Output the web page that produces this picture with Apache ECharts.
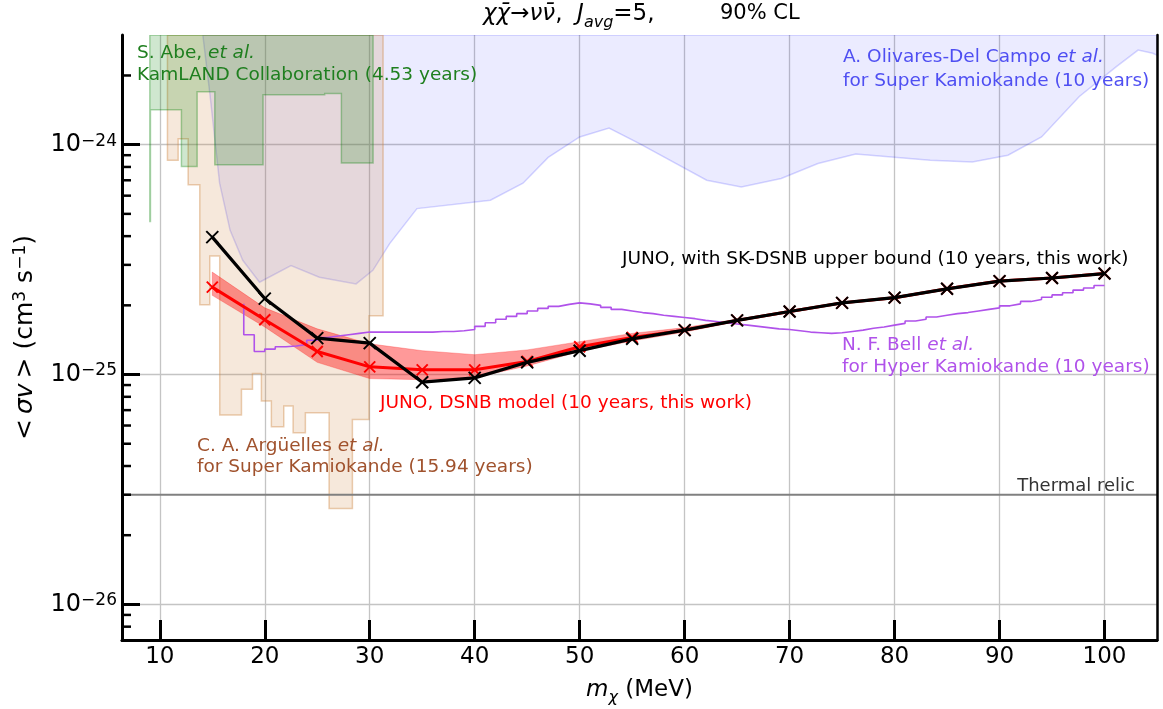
<!DOCTYPE html>
<html>
<head>
<meta charset="utf-8">
<script src="https://cdn.jsdelivr.net/npm/echarts@6.0.0/dist/echarts.min.js"></script>
<style>
html,body{margin:0;padding:0;background:#fff;}
#chart{width:1163px;height:709px;}
</style>
</head>
<body>
<div id="chart"></div>
<script>
// ---------------- axis ranges & ticks ----------------
const X_MIN = 6.4, X_MAX = 105;
const Y_MIN = 7e-27, Y_MAX = 3e-24;
const xTickValues = [10, 20, 30, 40, 50, 60, 70, 80, 90, 100];
const yMinorTicks = [8e-27, 9e-27, 2e-26, 3e-26, 4e-26, 5e-26, 6e-26, 7e-26, 8e-26, 9e-26,
  2e-25, 3e-25, 4e-25, 5e-25, 6e-25, 7e-25, 8e-25, 9e-25, 2e-24];

// ---------------- JUNO, with SK-DSNB upper bound (black) ----------------
const junoMass = [15, 20, 25, 30, 35, 40, 45, 50, 55, 60, 65, 70, 75, 80, 85, 90, 95, 100];
const junoSK = [3.96e-25, 2.14e-25, 1.44e-25, 1.37e-25, 9.26e-26, 9.67e-26, 1.13e-25, 1.27e-25, 1.43e-25,
  1.56e-25, 1.72e-25, 1.88e-25, 2.05e-25, 2.16e-25, 2.36e-25, 2.55e-25, 2.63e-25, 2.75e-25];

// ---------------- JUNO, DSNB model (red, with band) ----------------
const dsnbMass = [15, 20, 25, 30, 35, 40, 45, 50, 55, 60, 65, 70, 75, 80, 85, 90, 95, 100];
const dsnbCentral = [2.40e-25, 1.73e-25, 1.26e-25, 1.08e-25, 1.048e-25, 1.048e-25, 1.14e-25, 1.32e-25, 1.45e-25,
  1.56e-25, 1.72e-25, 1.88e-25, 2.05e-25, 2.16e-25, 2.36e-25, 2.55e-25, 2.63e-25, 2.75e-25];
const dsnbUpper = [2.79e-25, 1.95e-25, 1.58e-25, 1.36e-25, 1.27e-25, 1.22e-25, 1.28e-25, 1.39e-25, 1.51e-25,
  1.60e-25, 1.74e-25, 1.90e-25, 2.07e-25, 2.18e-25, 2.38e-25, 2.57e-25, 2.65e-25, 2.77e-25];
const dsnbLower = [2.21e-25, 1.61e-25, 1.13e-25, 9.6e-26, 9.5e-26, 9.7e-26, 1.09e-25, 1.26e-25, 1.40e-25,
  1.53e-25, 1.70e-25, 1.86e-25, 2.03e-25, 2.14e-25, 2.34e-25, 2.53e-25, 2.61e-25, 2.73e-25];

// ---------------- N. F. Bell et al., Hyper-K (purple step line) ----------------
const hkMass = [18, 19, 20, 21, 22, 23, 24, 25, 26, 27, 28, 29, 30, 31, 32, 33, 34, 35, 36, 37, 38, 39,
  40, 41, 42, 43, 44, 45, 46, 47, 48, 49, 50, 51, 52, 53, 54, 55, 56, 57, 58, 59, 60, 61, 62, 63, 64, 65,
  66, 67, 68, 69, 70, 71, 72, 73, 74, 75, 76, 77, 78, 79, 80, 81, 82, 83, 84, 85, 86, 87, 88, 89, 90,
  91, 92, 93, 94, 95, 96, 97, 98, 99, 100];
const hkSigma = [2.03e-25, 1.49e-25, 1.26e-25, 1.29e-25, 1.32e-25, 1.33e-25, 1.35e-25, 1.41e-25, 1.45e-25,
  1.47e-25, 1.49e-25, 1.51e-25, 1.53e-25, 1.53e-25, 1.53e-25, 1.53e-25, 1.53e-25, 1.53e-25, 1.53e-25,
  1.54e-25, 1.54e-25, 1.55e-25, 1.57e-25, 1.62e-25, 1.68e-25, 1.74e-25, 1.79e-25, 1.84e-25, 1.89e-25,
  1.94e-25, 1.98e-25, 2.02e-25, 2.05e-25, 2.03e-25, 2.00e-25, 1.96e-25, 1.92e-25, 1.89e-25, 1.86e-25,
  1.84e-25, 1.81e-25, 1.79e-25, 1.77e-25, 1.75e-25, 1.72e-25, 1.70e-25, 1.68e-25, 1.66e-25, 1.64e-25,
  1.62e-25, 1.60e-25, 1.58e-25, 1.57e-25, 1.55e-25, 1.53e-25, 1.52e-25, 1.51e-25, 1.52e-25, 1.54e-25,
  1.56e-25, 1.59e-25, 1.61e-25, 1.64e-25, 1.67e-25, 1.71e-25, 1.74e-25, 1.78e-25, 1.81e-25, 1.84e-25,
  1.86e-25, 1.89e-25, 1.92e-25, 1.95e-25, 1.99e-25, 2.03e-25, 2.08e-25, 2.12e-25, 2.17e-25, 2.22e-25,
  2.27e-25, 2.33e-25, 2.38e-25, 2.44e-25];

// ---------------- A. Olivares-Del Campo et al., Super-K (blue excluded region lower edge) ----------------
const olivMass = [14.1, 14.8, 15.7, 16.7, 17.9, 19.5, 22.5, 25.2, 28.7, 30.3, 31.9, 34.5, 41.5, 44.6, 47.0,
  50.0, 52.8, 55.7, 62.1, 65.4, 69.2, 72.7, 76.3, 83.4, 87.4, 90.8, 94.0, 97.6, 101.1, 103.2, 104.6, 105.0];
const olivSigma = [3.0e-24, 1.62e-24, 6.8e-25, 4.24e-25, 3.14e-25, 2.52e-25, 2.98e-25, 2.65e-25, 2.48e-25,
  2.84e-25, 3.71e-25, 5.27e-25, 5.73e-25, 6.8e-25, 8.8e-25, 1.08e-24, 1.18e-24, 1.01e-24, 7.0e-25,
  6.55e-25, 7.13e-25, 8.28e-25, 9.1e-25, 8.56e-25, 8.4e-25, 9.0e-25, 1.08e-24, 1.62e-24, 2.18e-24,
  2.58e-24, 2.5e-24, 2.45e-24];

// ---------------- C. A. Argüelles et al., Super-K (orange step region) ----------------
const argEdges = [10.73, 11.75, 12.70, 13.81, 14.76, 15.71, 17.78, 18.83, 19.68, 20.63, 21.81, 22.70,
  23.87, 26.13, 28.35, 29.94, 31.27];
const argSigma = [8.55e-25, 1.06e-24, 6.69e-25, 2.01e-25, 3.28e-25, 6.67e-26, 8.62e-26, 1.01e-25,
  7.67e-26, 5.93e-26, 7.29e-26, 5.58e-26, 6.82e-26, 2.61e-26, 6.38e-26, 1.80e-25];

// ---------------- S. Abe et al., KamLAND (green step region) ----------------
const kamEdges = [9.05, 9.11, 12.06, 13.56, 15.24, 19.84, 25.71, 27.30, 30.32];
const kamSigma = [4.63e-25, 1.42e-24, 8.04e-25, 1.70e-24, 8.18e-25, 1.65e-24, 1.67e-24, 8.32e-25];

const thermalRelic = 3e-26;

// ---------------- helpers ----------------
const FONT = 'DejaVu Sans';

function stepOutline(edges, vals, top) {
  const pts = [[edges[0], top]];
  for (let i = 0; i < vals.length; i++) {
    pts.push([edges[i], vals[i]]);
    pts.push([edges[i + 1], vals[i]]);
  }
  pts.push([edges[edges.length - 1], top]);
  return pts;
}

function polygonSeries(pts, fill, stroke, lw, z) {
  return {
    type: 'custom', coordinateSystem: 'cartesian2d', xAxisIndex: 0, yAxisIndex: 0,
    clip: true, silent: true, z: z, animation: false,
    data: [[50, 1e-25]],
    renderItem: function (params, api) {
      return {
        type: 'polygon',
        shape: { points: pts.map(p => api.coord(p)) },
        style: { fill: fill, stroke: stroke, lineWidth: lw }
      };
    }
  };
}

const olivPts = [[olivMass[0], Y_MAX]]
  .concat(olivMass.map((m, i) => [m, olivSigma[i]]))
  .concat([[olivMass[olivMass.length - 1], Y_MAX]]);
const argPts = stepOutline(argEdges, argSigma, Y_MAX);
const kamPts = stepOutline(kamEdges, kamSigma, Y_MAX);
const bandPts = dsnbMass.map((m, i) => [m, dsnbUpper[i]])
  .concat(dsnbMass.map((m, i) => [m, dsnbLower[i]]).reverse());

const X_SYMBOL = 'path://M0,0L10,10M10,0L0,10';

function richSet(color, size) {
  return {
    n: { fill: color, color: color, fontSize: size, fontFamily: FONT, lineHeight: size + 4 },
    i: { fill: color, color: color, fontSize: size, fontFamily: FONT, fontStyle: 'italic', lineHeight: size + 4 }
  };
}
function label(x, y, text, color, size, align) {
  return {
    type: 'text', x: x, y: y, z: 100, silent: true,
    style: {
      text: text, rich: richSet(color, size), fill: color,
      fontSize: size, fontFamily: FONT,
      textAlign: align || 'left', align: align || 'left',
      textVerticalAlign: 'middle', verticalAlign: 'middle'
    }
  };
}

const GREEN_T = '#1f7f1f', BLUE_T = '#4f4ff2', PURPLE = '#b052ea', SIENNA = '#a0522d';
const ANN = 18.5;

const chart = echarts.init(document.getElementById('chart'), null, { renderer: 'canvas' });

const tickLabelRich = {
  b: { fontSize: 24, fontFamily: FONT, color: '#000', lineHeight: 24, verticalAlign: 'bottom' },
  s: { fontSize: 17, fontFamily: FONT, color: '#000', lineHeight: 11, verticalAlign: 'top' }
};
const titleRich = {
  i: { fontSize: 23, fontFamily: FONT, fontStyle: 'italic', fill: '#000', lineHeight: 28, verticalAlign: 'top' },
  m: { fontSize: 23, fontFamily: FONT, fill: '#000', lineHeight: 28, verticalAlign: 'top' },
  n: { fontSize: 21, fontFamily: FONT, fill: '#000', lineHeight: 28, verticalAlign: 'top' },
  sub: { fontSize: 16, fontFamily: FONT, fontStyle: 'italic', fill: '#000', lineHeight: 18, verticalAlign: 'bottom' }
};

const option = {
  animation: false,
  backgroundColor: '#fff',
  grid: { left: 122, right: 6, top: 35, bottom: 69, containLabel: false, outerBoundsMode: 'none' },
  xAxis: [
    {
      type: 'value', min: X_MIN, max: X_MAX, splitNumber: 10, position: 'bottom', z: 0,
      axisLine: { show: false }, axisTick: { show: false },
      axisLabel: { fontSize: 23, fontFamily: FONT, color: '#000', margin: 6, customValues: xTickValues },
      splitLine: { show: true, lineStyle: { color: '#c4c4c4', width: 1.3 } },
      name: '{i|m}{sub|χ}{n| (MeV)}', nameLocation: 'middle', nameGap: 39,
      nameTextStyle: {
        rich: {
          i: { fontSize: 23, fontFamily: FONT, fontStyle: 'italic', color: '#000', lineHeight: 27, verticalAlign: 'top' },
          sub: { fontSize: 16, fontFamily: FONT, fontStyle: 'italic', color: '#000', lineHeight: 20, verticalAlign: 'bottom' },
          n: { fontSize: 23, fontFamily: FONT, color: '#000', lineHeight: 27, verticalAlign: 'top' }
        }
      }
    },
    {
      type: 'value', min: X_MIN, max: X_MAX, splitNumber: 10, position: 'bottom', z: 10,
      axisLine: { show: true, lineStyle: { color: '#000', width: 3 } },
      axisTick: { show: true, inside: true, length: 20, lineStyle: { color: '#000', width: 3 }, customValues: xTickValues },
      axisLabel: { show: false }, splitLine: { show: false }
    },
    {
      type: 'value', min: 0, max: 1, position: 'top', z: 10,
      axisLine: { show: true, lineStyle: { color: '#000', width: 2.5 } },
      axisTick: { show: false }, axisLabel: { show: false }, splitLine: { show: false }
    }
  ],
  yAxis: [
    {
      type: 'log', logBase: 10, min: Y_MIN, max: Y_MAX, position: 'left', z: 0,
      axisLine: { show: false }, axisTick: { show: false },
      axisLabel: {
        margin: 5, showMinLabel: false, showMaxLabel: false,
        formatter: function (v) {
          const e = Math.round(Math.log10(v));
          return '{b|10}{s|' + (e < 0 ? '\u2212' : '') + Math.abs(e) + '}';
        },
        rich: tickLabelRich
      },
      splitLine: { show: true, lineStyle: { color: '#c4c4c4', width: 1.3 } },
      name: '<\u2009{i|σv}\u2009> (cm{sup|3} s{sup|\u22121})', nameLocation: 'middle', nameGap: 74, nameRotate: 90,
      nameTextStyle: {
        fontSize: 25, fontFamily: FONT, color: '#000', lineHeight: 28,
        rich: {
          i: { fontSize: 25, fontFamily: FONT, fontStyle: 'italic', color: '#000', lineHeight: 28 },
          sup: { fontSize: 17, fontFamily: FONT, color: '#000', lineHeight: 14, verticalAlign: 'top' }
        }
      }
    },
    {
      type: 'log', logBase: 10, min: Y_MIN, max: Y_MAX, position: 'left', z: 10,
      axisLine: { show: true, lineStyle: { color: '#000', width: 3 } },
      axisTick: { show: true, inside: true, length: 18, lineStyle: { color: '#000', width: 3 } },
      axisLabel: { show: false }, splitLine: { show: false }
    },
    {
      type: 'value', min: 0, max: 1, position: 'right', z: 10,
      axisLine: { show: true, lineStyle: { color: '#000', width: 2.5 } },
      axisTick: { show: false }, axisLabel: { show: false }, splitLine: { show: false }
    }
  ],
  series: [
    polygonSeries(olivPts, 'rgba(30,30,255,0.09)', 'rgba(0,0,255,0.16)', 1.5, 1),
    polygonSeries(argPts, 'rgba(205,133,63,0.19)', 'rgba(205,133,63,0.40)', 1.5, 1),
    polygonSeries(kamPts, 'rgba(0,128,0,0.19)', 'rgba(0,128,0,0.32)', 1.5, 1),
    {
      type: 'line', xAxisIndex: 0, yAxisIndex: 0, z: 2, silent: true,
      data: [[X_MIN, thermalRelic], [X_MAX, thermalRelic]],
      symbol: 'none', lineStyle: { color: '#808080', width: 2 }
    },
    {
      type: 'line', xAxisIndex: 0, yAxisIndex: 0, z: 3, silent: true, step: 'start',
      data: hkMass.map((m, i) => [m, hkSigma[i]]),
      symbol: 'none', lineStyle: { color: PURPLE, width: 1.6 }
    },
    polygonSeries(bandPts, 'rgba(255,0,0,0.40)', 'rgba(255,0,0,0.25)', 1, 3),
    {
      type: 'line', xAxisIndex: 0, yAxisIndex: 0, z: 4, silent: true,
      data: dsnbMass.map((m, i) => [m, dsnbCentral[i]]),
      symbol: X_SYMBOL, symbolSize: 11, showAllSymbol: true, symbolKeepAspect: true,
      lineStyle: { color: '#ff0000', width: 3 },
      itemStyle: { color: 'rgba(0,0,0,0)', borderColor: '#ff0000', borderWidth: 2 }
    },
    {
      type: 'line', xAxisIndex: 0, yAxisIndex: 0, z: 5, silent: true,
      data: junoMass.map((m, i) => [m, junoSK[i]]),
      symbol: X_SYMBOL, symbolSize: 12, showAllSymbol: true, symbolKeepAspect: true,
      lineStyle: { color: '#000', width: 3.2 },
      itemStyle: { color: 'rgba(0,0,0,0)', borderColor: '#000', borderWidth: 2 }
    },
    {
      // minor ticks of the logarithmic axis, placed through the y scale
      type: 'custom', coordinateSystem: 'cartesian2d', xAxisIndex: 0, yAxisIndex: 0,
      z: 11, silent: true, clip: false,
      data: yMinorTicks.map(v => [X_MIN, v]),
      renderItem: function (params, api) {
        const p = api.coord([api.value(0), api.value(1)]);
        return { type: 'line', shape: { x1: p[0], y1: p[1], x2: p[0] + 9, y2: p[1] },
                 style: { stroke: '#000', lineWidth: 2.5 } };
      }
    }
  ],
  graphic: [
    {
      type: 'text', x: 483, y: 17, z: 100, silent: true,
      style: {
        text: '{i|χχ\u0304}{m|→}{i|νν\u0304}{m|,  }{i|J}{sub|avg}{m|=5,}',
        textAlign: 'left', align: 'left', textVerticalAlign: 'middle', verticalAlign: 'middle',
        fontSize: 23, fontFamily: FONT, fill: '#000', rich: titleRich
      }
    },
    {
      type: 'text', x: 720, y: 17, z: 100, silent: true,
      style: {
        text: '{n|90% CL}',
        textAlign: 'left', align: 'left', textVerticalAlign: 'middle', verticalAlign: 'middle',
        fontSize: 21, fontFamily: FONT, fill: '#000', rich: titleRich
      }
    },
    label(137, 53, '{n|S. Abe, }{i|et al.}', GREEN_T, ANN),
    label(137, 75, 'KamLAND Collaboration (4.53 years)', GREEN_T, ANN),
    label(843, 57, '{n|A. Olivares-Del Campo }{i|et al.}', BLUE_T, ANN),
    label(843, 81, 'for Super Kamiokande (10 years)', BLUE_T, ANN),
    label(622, 259, 'JUNO, with SK-DSNB upper bound (10 years, this work)', '#000', ANN),
    label(842, 345, '{n|N. F. Bell }{i|et al.}', PURPLE, ANN),
    label(842, 367, 'for Hyper Kamiokande (10 years)', PURPLE, ANN),
    label(380, 403, 'JUNO, DSNB model (10 years, this work)', '#ff0000', ANN),
    label(197, 446, '{n|C. A. Argüelles }{i|et al.}', SIENNA, ANN),
    label(197, 467, 'for Super Kamiokande (15.94 years)', SIENNA, ANN),
    label(1135, 486, 'Thermal relic', '#333333', 18, 'right')
  ]
};

chart.setOption(option);
</script>
</body>
</html>
